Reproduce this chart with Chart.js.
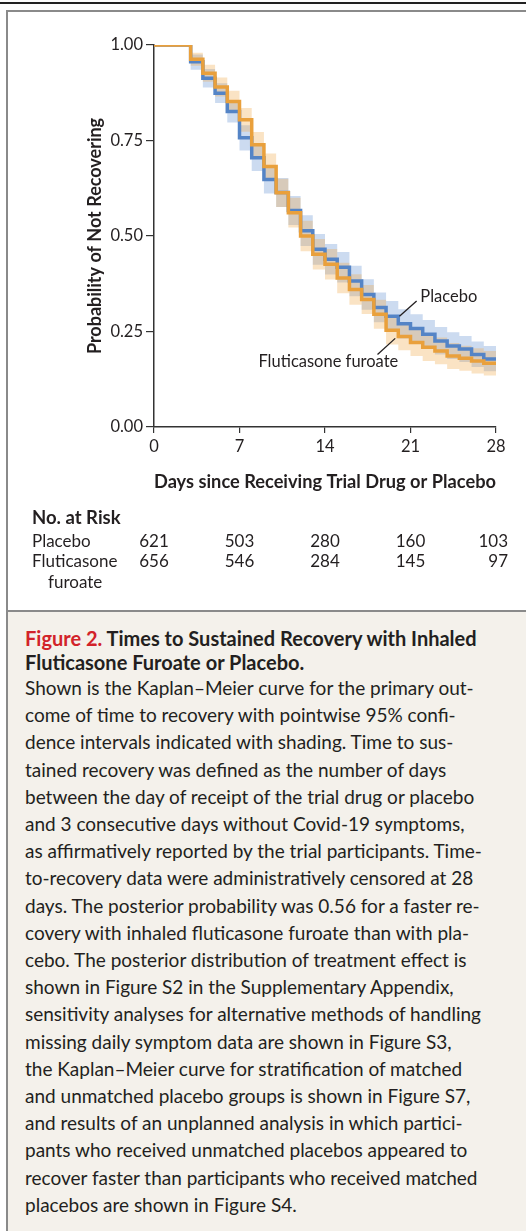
<!DOCTYPE html>
<html>
<head>
<meta charset="utf-8">
<script src="https://cdn.jsdelivr.net/npm/chart.js@4"></script>
<style>
  html, body { margin: 0; padding: 0; background: #fff; }
  body { width: 526px; height: 1231px; position: relative; overflow: hidden; font-family: 'Lato', sans-serif; color: #231f20; }
  #topRule { position: absolute; left: 0; top: 2px; width: 526px; height: 2px; background: #222; }
  #box { position: absolute; left: 6px; top: 10px; width: 540px; height: 1240px; border: 2px solid #8a8a8a; box-sizing: border-box; }
  #chartWrap { position: absolute; left: 8px; top: 12px; }
  #caption { position: absolute; left: 8px; top: 610px; width: 518px; height: 621px; background: #f4f1eb; border-top: 2px solid #8a8a8a; box-sizing: border-box; }
  .cap-title { position: absolute; left: 17px; top: 14px; font-weight: 700; font-size: 20px; line-height: 24px; }
  .cap-title .fig { color: #d2232a; }
  .cap-body { position: absolute; left: 17px; top: 62px; font-size: 19px; line-height: 27.2px; white-space: nowrap; }
</style>
</head>
<body>
<div id="topRule"></div>
<div id="box"></div>
<div id="chartWrap"><canvas id="kmChart" width="518" height="598"></canvas></div>
<div id="caption">
  <div class="cap-title"><span class="fig">Figure 2.</span> Times to Sustained Recovery with Inhaled<br>Fluticasone Furoate or Placebo.</div>
  <div class="cap-body">
    Shown is the Kaplan–Meier curve for the primary out-<br>
    come of time to recovery with pointwise 95% confi-<br>
    dence intervals indicated with shading. Time to sus-<br>
    tained recovery was defined as the number of days<br>
    between the day of receipt of the trial drug or placebo<br>
    and 3 consecutive days without Covid-19 symptoms,<br>
    as affirmatively reported by the trial participants. Time-<br>
    to-recovery data were administratively censored at 28<br>
    days. The posterior probability was 0.56 for a faster re-<br>
    covery with inhaled fluticasone furoate than with pla-<br>
    cebo. The posterior distribution of treatment effect is<br>
    shown in Figure S2 in the Supplementary Appendix,<br>
    sensitivity analyses for alternative methods of handling<br>
    missing daily symptom data are shown in Figure S3,<br>
    the Kaplan–Meier curve for stratification of matched<br>
    and unmatched placebo groups is shown in Figure S7,<br>
    and results of an unplanned analysis in which partici-<br>
    pants who received unmatched placebos appeared to<br>
    recover faster than participants who received matched<br>
    placebos are shown in Figure S4.
  </div>
</div>

<script>
// ===== Data =====
// value at day d holds on [d, d+1)
const days = [0, 1, 2, 3, 4, 5, 6, 7, 8, 9, 10, 11, 12, 13, 14, 15, 16, 17, 18, 19, 20, 21, 22, 23, 24, 25, 26, 27, 28];

const placebo = [1, 1, 1, 0.956, 0.913, 0.874, 0.826, 0.757, 0.705, 0.648, 0.614, 0.567, 0.514, 0.465,
  0.439, 0.418, 0.382, 0.347, 0.313, 0.290, 0.270, 0.258, 0.243, 0.225, 0.212, 0.204, 0.190, 0.178, 0.178];
const placeboUpper = [1, 1, 1, 0.975, 0.937, 0.900, 0.855, 0.790, 0.740, 0.685, 0.652, 0.605, 0.554, 0.505,
  0.479, 0.458, 0.422, 0.387, 0.352, 0.330, 0.308, 0.295, 0.280, 0.262, 0.248, 0.238, 0.224, 0.212, 0.212];
const placeboLower = [1, 1, 1, 0.935, 0.889, 0.848, 0.797, 0.724, 0.670, 0.611, 0.576, 0.529, 0.474, 0.425,
  0.399, 0.378, 0.342, 0.307, 0.274, 0.252, 0.232, 0.221, 0.206, 0.190, 0.178, 0.170, 0.157, 0.146, 0.146];

const fluticasone = [1, 1, 1, 0.963, 0.926, 0.890, 0.852, 0.804, 0.739, 0.682, 0.613, 0.561, 0.500, 0.452,
  0.426, 0.390, 0.360, 0.334, 0.295, 0.253, 0.237, 0.221, 0.209, 0.199, 0.186, 0.180, 0.173, 0.167, 0.167];
const fluticasoneUpper = [1, 1, 1, 0.980, 0.948, 0.915, 0.880, 0.835, 0.772, 0.716, 0.650, 0.600, 0.540, 0.492,
  0.466, 0.430, 0.400, 0.372, 0.333, 0.290, 0.275, 0.258, 0.245, 0.234, 0.220, 0.213, 0.206, 0.199, 0.199];
const fluticasoneLower = [1, 1, 1, 0.946, 0.904, 0.865, 0.824, 0.773, 0.706, 0.648, 0.576, 0.522, 0.460, 0.412,
  0.386, 0.350, 0.320, 0.296, 0.257, 0.216, 0.201, 0.186, 0.173, 0.164, 0.152, 0.147, 0.140, 0.135, 0.135];

const riskDays = [0, 7, 14, 21, 28];
const riskPlacebo = [621, 503, 280, 160, 103];
const riskFluticasone = [656, 546, 284, 145, 97];

const yTicks = [0, 0.25, 0.5, 0.75, 1];

// ===== Colours =====
const BLUE = '#5484c6';
const ORANGE = '#e9a03c';
const BLUE_BAND = 'rgba(85,135,205,0.30)';
const ORANGE_BAND = 'rgba(238,168,72,0.32)';
const INK = '#231f20';

Chart.defaults.font.family = 'Lato';
Chart.defaults.color = INK;

function pts(values) {
  return days.map((d, i) => ({ x: d, y: values[i] }));
}

function band(values, fill, color, order) {
  return {
    data: pts(values),
    stepped: true,
    borderWidth: 0,
    pointRadius: 0,
    backgroundColor: color,
    fill: fill,
    order: order,
  };
}

// Curve labels + leaders, anchored in data space
const curveLabels = [
  { text: 'Placebo', at: [21.8, 0.342], align: 'left', from: [20.1, 0.29], to: [21.5, 0.33] },
  { text: 'Fluticasone furoate', at: [20.0, 0.172], align: 'right', from: [19.75, 0.232], to: [18.3, 0.19] },
];

const extrasPlugin = {
  id: 'extras',
  afterDraw(chart) {
    const { ctx, scales: { x, y } } = chart;
    ctx.save();

    // leader lines and labels
    ctx.strokeStyle = INK;
    ctx.lineWidth = 1.3;
    ctx.fillStyle = INK;
    ctx.font = '16.5px Lato';
    ctx.textBaseline = 'middle';
    curveLabels.forEach((l) => {
      ctx.beginPath();
      ctx.moveTo(x.getPixelForValue(l.from[0]), y.getPixelForValue(l.from[1]));
      ctx.lineTo(x.getPixelForValue(l.to[0]), y.getPixelForValue(l.to[1]));
      ctx.stroke();
      ctx.textAlign = l.align;
      ctx.fillText(l.text, x.getPixelForValue(l.at[0]), y.getPixelForValue(l.at[1]));
    });

    // number-at-risk table
    const top = y.getPixelForValue(0);
    ctx.textAlign = 'left';
    ctx.font = 'bold 18.5px Lato';
    ctx.fillText('No. at Risk', 24, top + 91);
    ctx.font = '17px Lato';
    ctx.fillText('Placebo', 24, top + 115);
    ctx.fillText('Fluticasone', 24, top + 135);
    ctx.fillText('furoate', 40, top + 156);
    riskDays.forEach((d, i) => {
      const last = i === riskDays.length - 1;
      ctx.textAlign = last ? 'right' : 'center';
      const px = x.getPixelForValue(d) + (last ? 12 : 0);
      ctx.fillText(String(riskPlacebo[i]), px, top + 115);
      ctx.fillText(String(riskFluticasone[i]), px, top + 135);
    });
    ctx.restore();
  },
};

const chart = new Chart(document.getElementById('kmChart'), {
  type: 'line',
  data: {
    datasets: [
      band(placeboUpper, '+1', BLUE_BAND, 4),
      band(placeboLower, false, BLUE_BAND, 4),
      band(fluticasoneUpper, '+1', ORANGE_BAND, 3),
      band(fluticasoneLower, false, ORANGE_BAND, 3),
      {
        label: 'Placebo',
        data: pts(placebo),
        stepped: true,
        borderColor: BLUE,
        borderWidth: 3.5,
        pointRadius: 0,
        fill: false,
        order: 1,
      },
      {
        label: 'Fluticasone furoate',
        data: pts(fluticasone),
        stepped: true,
        borderColor: ORANGE,
        borderWidth: 3.5,
        pointRadius: 0,
        fill: false,
        order: 0,
      },
    ],
  },
  options: {
    responsive: false,
    animation: false,
    devicePixelRatio: 1,
    layout: { padding: { top: 33, right: 30, left: 0, bottom: 0 } },
    plugins: { legend: { display: false }, tooltip: { enabled: false } },
    scales: {
      x: {
        type: 'linear',
        min: 0,
        max: 28,
        afterFit: (s) => { s.height = 183; },
        ticks: { stepSize: 7, padding: 4, font: { size: 16.5 }, color: INK, maxRotation: 0 },
        grid: { drawOnChartArea: false, drawTicks: true, tickLength: 6, color: '#333', lineWidth: 1.2 },
        border: { display: true, color: '#333', width: 1.5 },
        title: {
          display: true,
          text: 'Days since Receiving Trial Drug or Placebo',
          font: { size: 18.5, weight: 'bold' },
          color: INK,
          padding: { top: 0, bottom: 117 },
        },
      },
      y: {
        min: 0,
        max: 1,
        afterFit: (s) => { s.width = 146; },
        afterBuildTicks: (s) => { s.ticks = yTicks.map((v) => ({ value: v })); },
        ticks: { padding: 3, font: { size: 16.5 }, color: INK, callback: (v) => v.toFixed(2) },
        grid: { drawOnChartArea: false, drawTicks: true, tickLength: 8, color: '#333', lineWidth: 1.2 },
        border: { display: true, color: '#333', width: 1.5 },
        title: {
          display: true,
          text: 'Probability of Not Recovering',
          font: { size: 18, weight: 'bold' },
          color: INK,
          padding: { top: 76, bottom: 0 },
        },
      },
    },
  },
  plugins: [extrasPlugin],
});
</script>
</body>
</html>
